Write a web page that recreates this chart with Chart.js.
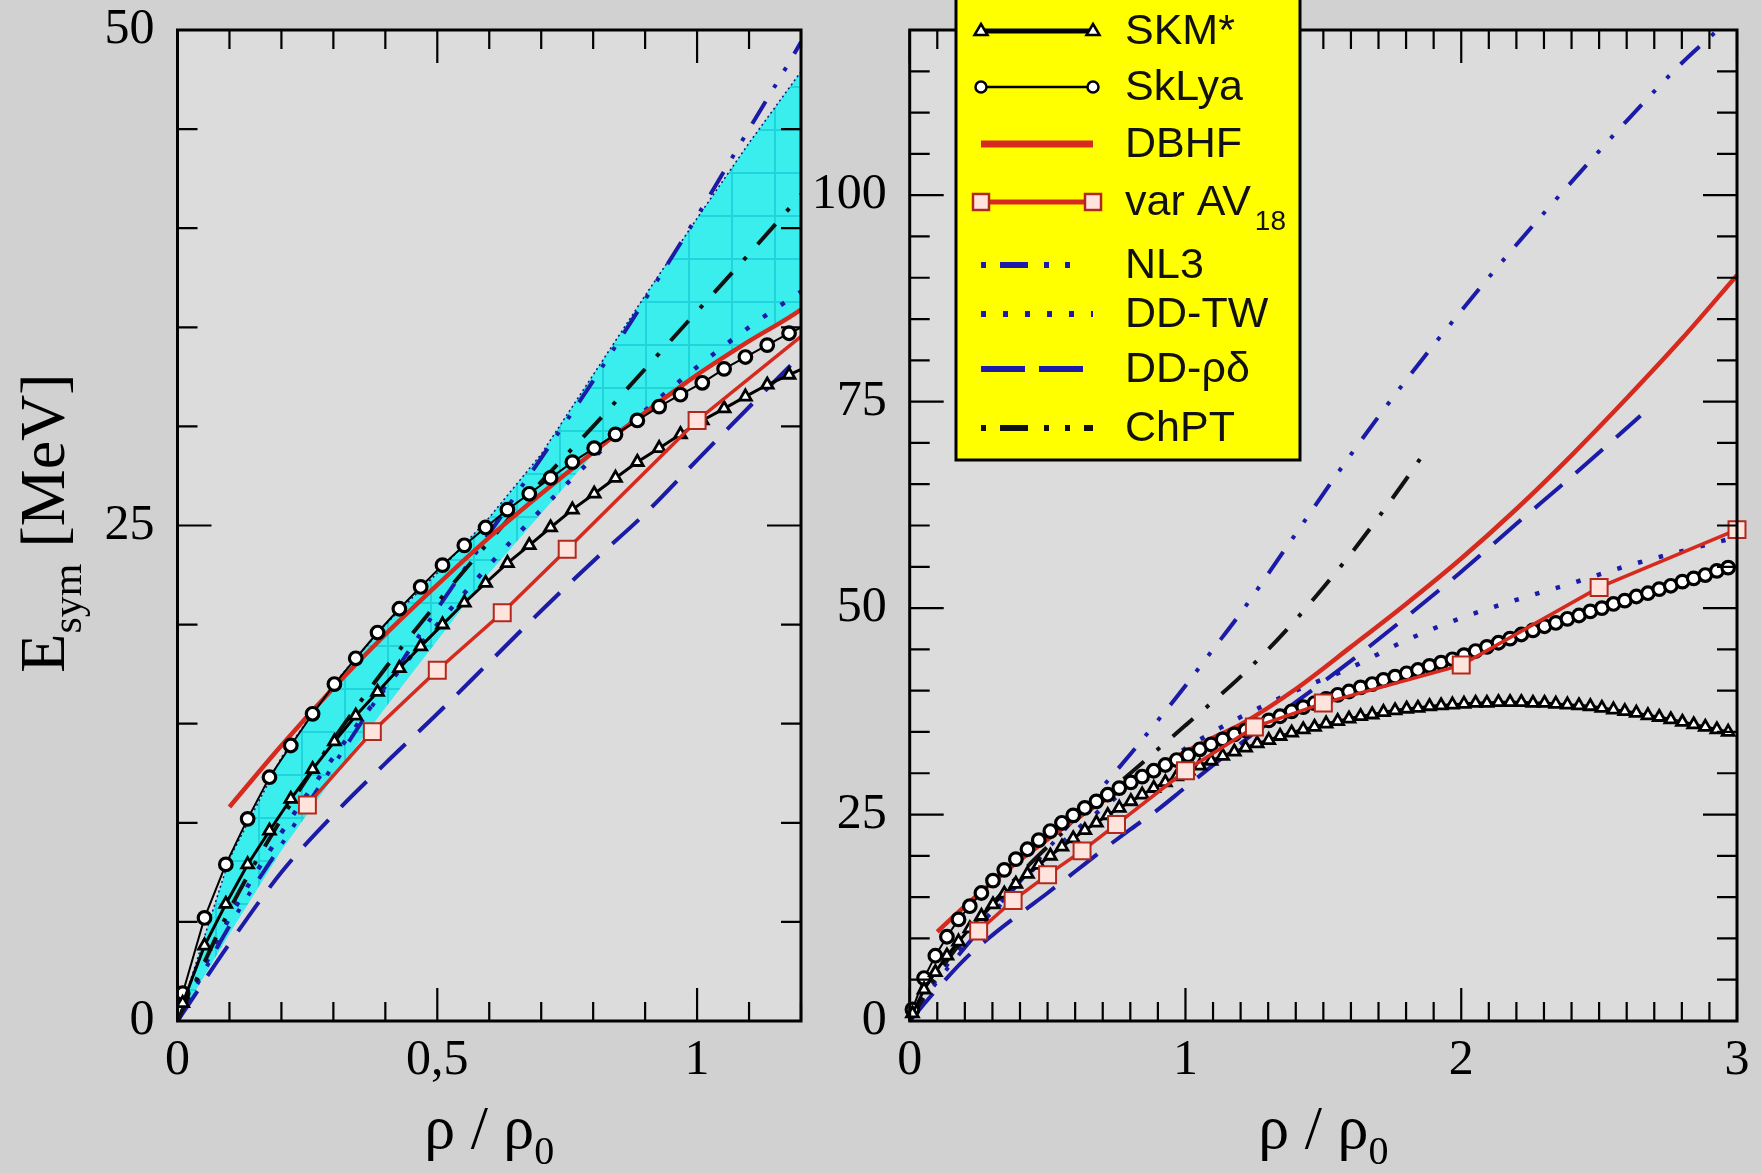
<!DOCTYPE html>
<html>
<head>
<meta charset="utf-8">
<script src="https://cdn.jsdelivr.net/npm/chart.js@4.4.1/dist/chart.umd.min.js"></script>
<style>
  html, body { margin: 0; padding: 0; background: #d1d1d1; }
  body { width: 1761px; height: 1173px; position: relative; overflow: hidden; }
  canvas { position: absolute; top: 0; }
  #left { left: 0; }
  #right { left: 805px; }
</style>
</head>
<body>
<canvas id="left" width="805" height="1173"></canvas>
<canvas id="right" width="956" height="1173"></canvas>
<script>
// densities of the Skyrme curves (marker positions), rho/rho0
const rhoGrid = [0.010, 0.052, 0.093, 0.135, 0.177, 0.218, 0.260, 0.302, 0.343, 0.385,
  0.427, 0.468, 0.510, 0.552, 0.593, 0.635, 0.677, 0.718, 0.760, 0.802,
  0.843, 0.885, 0.927, 0.968, 1.010, 1.052, 1.093, 1.135, 1.177, 1.218,
  1.260, 1.302, 1.343, 1.385, 1.427, 1.468, 1.510, 1.552, 1.593, 1.635,
  1.677, 1.718, 1.760, 1.802, 1.843, 1.885, 1.927, 1.968, 2.010, 2.052,
  2.093, 2.135, 2.177, 2.218, 2.260, 2.302, 2.343, 2.385, 2.427, 2.468,
  2.510, 2.552, 2.593, 2.635, 2.677, 2.718, 2.760, 2.802, 2.843, 2.885,
  2.927, 2.968];
const skmStar = [0.9, 3.8, 5.9, 7.9, 9.6, 11.2, 12.7, 14.1, 15.4, 16.6,
  17.8, 18.9, 20.0, 21.1, 22.1, 23.1, 24.0, 24.9, 25.8, 26.6,
  27.4, 28.2, 28.9, 29.6, 30.3, 30.9, 31.5, 32.1, 32.6, 33.1,
  33.6, 34.0, 34.5, 34.9, 35.3, 35.6, 36.0, 36.3, 36.6, 36.9,
  37.1, 37.4, 37.6, 37.8, 37.9, 38.1, 38.2, 38.3, 38.4, 38.5,
  38.5, 38.6, 38.6, 38.6, 38.5, 38.5, 38.4, 38.3, 38.2, 38.1,
  37.9, 37.7, 37.5, 37.3, 37.0, 36.8, 36.5, 36.2, 35.9, 35.6,
  35.3, 35.0];
const skLya = [1.4, 5.2, 7.9, 10.2, 12.3, 13.9, 15.5, 17.0, 18.3, 19.6,
  20.8, 21.9, 23.0, 24.0, 24.9, 25.8, 26.6, 27.4, 28.2, 28.9,
  29.6, 30.3, 31.0, 31.6, 32.2, 32.9, 33.5, 34.1, 34.7, 35.2,
  35.8, 36.4, 36.9, 37.5, 38.0, 38.5, 39.0, 39.5, 39.9, 40.4,
  40.8, 41.3, 41.7, 42.1, 42.5, 43.0, 43.4, 43.8, 44.3, 44.8,
  45.3, 45.8, 46.3, 46.8, 47.3, 47.8, 48.2, 48.7, 49.1, 49.6,
  50.0, 50.5, 50.9, 51.4, 51.8, 52.3, 52.7, 53.2, 53.6, 54.0,
  54.5, 54.9];

const dbhfRho = [0.1, 0.2, 0.3, 0.4, 0.5, 0.6, 0.7, 0.8, 0.9, 1.0, 1.1, 1.2, 1.4, 1.6, 1.8, 2.0, 2.2, 2.4, 2.6, 2.8, 3.0];
const dbhfE = [10.8, 13.9, 16.8, 19.5, 22.0, 24.4, 26.6, 28.7, 30.7, 32.6, 34.3, 35.9, 40.2, 45.3, 50.5, 56.0, 62.0, 68.5, 75.4, 82.6, 90.3];

const av18Rho = [0.25, 0.375, 0.5, 0.625, 0.75, 1.0, 1.25, 1.5, 2.0, 2.5, 3.0];
const av18E = [10.9, 14.6, 17.7, 20.6, 23.8, 30.3, 35.6, 38.5, 43.1, 52.5, 59.5];

const nl3Rho = [0, 0.1, 0.2, 0.3, 0.4, 0.5, 0.6, 0.7, 0.8, 0.9, 1.0, 1.1, 1.2, 1.4, 1.6, 1.8, 2.0, 2.2, 2.4, 2.6, 2.8, 2.93];
const nl3E = [0, 4.8, 8.9, 12.9, 16.9, 20.8, 24.6, 28.4, 32.3, 36.4, 40.6, 45.0, 49.4, 59.0, 68.6, 77.6, 86.0, 94.0, 101.6, 109.0, 116.0, 120.0];

const ddtwRho = [0, 0.1, 0.2, 0.3, 0.4, 0.5, 0.6, 0.7, 0.8, 0.9, 1.0, 1.1, 1.2, 1.4, 1.6, 1.8, 2.0, 2.2, 2.4, 2.6, 2.8, 3.0];
const ddtwE = [0, 5.2, 9.5, 13.3, 16.8, 20.0, 23.0, 25.8, 28.4, 30.8, 33.0, 35.0, 36.8, 40.0, 42.8, 46.1, 48.8, 51.0, 53.0, 55.1, 56.9, 58.6];

const ddrdRho = [0, 0.1, 0.2, 0.3, 0.4, 0.5, 0.6, 0.7, 0.8, 0.9, 1.0, 1.2, 1.4, 1.6, 1.8, 2.0, 2.2, 2.4, 2.65];
const ddrdE = [0, 3.9, 7.5, 10.4, 13.0, 15.5, 18.1, 20.7, 23.2, 25.6, 28.3, 33.6, 38.6, 43.6, 48.9, 54.4, 60.2, 65.9, 73.3];

const chptRho = [0, 0.1, 0.2, 0.3, 0.4, 0.5, 0.6, 0.7, 0.8, 0.9, 1.0, 1.1, 1.2, 1.3, 1.4, 1.5, 1.6, 1.7, 1.8, 1.87];
const chptE = [0, 5.6, 10.2, 14.2, 17.8, 21.1, 24.2, 27.2, 30.0, 32.9, 35.8, 38.7, 41.7, 45.0, 48.6, 52.5, 56.6, 61.0, 65.6, 69.0];

// shaded constraint band (left panel only)
const bandRho = [0, 0.1, 0.2, 0.3, 0.4, 0.5, 0.6, 0.7, 0.8, 0.9, 1.0, 1.1, 1.2];
const bandUpper = [0, 8.2, 13.3, 17.0, 20.0, 22.6, 25.4, 28.6, 32.6, 36.6, 40.5, 44.3, 47.9];
const bandLower = [0, 4.4, 8.6, 12.3, 15.8, 19.2, 22.6, 25.6, 28.6, 30.7, 32.6, 34.3, 35.9];

const leftXTicks = [0, 0.5, 1];
const leftYTicks = [0, 25, 50];
const rightXTicks = [0, 1, 2, 3];
const rightYTicks = [0, 25, 50, 75, 100];

const BLUE = '#1b1ba8';
const RED = '#d62a1e';
const SERIF = '"Liberation Serif", "Times New Roman", serif';
const SANS = '"Liberation Sans", Arial, sans-serif';

function series(xs, ys) {
  return xs.map((x, i) => ({ x: x, y: ys[i] }));
}

function hatch(ctx) {
  const c = document.createElement('canvas');
  c.width = 43; c.height = 43;
  const g = c.getContext('2d');
  g.fillStyle = '#3aeeee';
  g.fillRect(0, 0, 43, 43);
  g.strokeStyle = '#20d4dc';
  g.lineWidth = 2;
  g.beginPath();
  g.moveTo(0, 1); g.lineTo(43, 1);
  g.moveTo(1, 0); g.lineTo(1, 43);
  g.stroke();
  return ctx.createPattern(c, 'repeat');
}

function makeDatasets(ctx, withBand) {
  const sets = [
    { label: 'DD-ρδ', data: series(ddrdRho, ddrdE), borderColor: BLUE, borderWidth: 4,
      borderDash: [36, 18], pointRadius: 0, cubicInterpolationMode: 'monotone', order: 9 },
    { label: 'DD-TW', data: series(ddtwRho, ddtwE), borderColor: BLUE, borderWidth: 4.5,
      borderDash: [4.5, 17], pointRadius: 0, cubicInterpolationMode: 'monotone', order: 8 },
    { label: 'NL3', data: series(nl3Rho, nl3E), borderColor: BLUE, borderWidth: 4,
      borderDash: [26, 16, 4, 16, 4, 16], pointRadius: 0, cubicInterpolationMode: 'monotone', order: 7 },
    { label: 'ChPT', data: series(chptRho, chptE), borderColor: '#111', borderWidth: 4,
      borderDash: [27, 17, 4, 17], pointRadius: 0, cubicInterpolationMode: 'monotone', order: 6 },
    { label: 'DBHF', data: series(dbhfRho, dbhfE), borderColor: RED, borderWidth: 4.5,
      pointRadius: 0, cubicInterpolationMode: 'monotone', order: 5 },
    { label: 'SkLya', data: series(rhoGrid, skLya), borderColor: '#000', borderWidth: 2,
      pointStyle: 'circle', pointRadius: 6.3, pointBorderWidth: 3.2,
      pointBackgroundColor: '#fff', pointBorderColor: '#000', order: 3 },
    { label: 'SKM*', data: series(rhoGrid, skmStar), borderColor: '#000', borderWidth: 3,
      pointStyle: 'triangle', pointRadius: 6.8, pointBorderWidth: 2.8,
      pointBackgroundColor: '#fff', pointBorderColor: '#000', order: 2 },
    { label: 'var AV18', data: series(av18Rho, av18E), borderColor: RED, borderWidth: 3.5,
      pointStyle: 'rect', pointRadius: 12, pointBorderWidth: 2,
      pointBackgroundColor: '#ffe4de', pointBorderColor: '#b3281c', order: 1 }
  ];
  if (withBand) {
    sets.unshift(
      { label: 'band', data: series(bandRho, bandUpper), borderColor: '#141480', borderWidth: 1.5,
        borderDash: [2, 3], pointRadius: 0, fill: '+1', backgroundColor: hatch(ctx), order: 20 },
      { label: 'band-low', data: series(bandRho, bandLower), borderWidth: 0, pointRadius: 0,
        fill: false, order: 21 }
    );
  }
  return sets;
}

// plot background, frame with inside ticks on all four sides
const frameTicks = {
  id: 'frameTicks',
  beforeDraw(chart) {
    const a = chart.chartArea, ctx = chart.ctx;
    ctx.save();
    ctx.fillStyle = '#dcdcdc';
    ctx.fillRect(a.left, a.top, a.right - a.left, a.bottom - a.top);
    ctx.restore();
  },
  afterDatasetsDraw(chart, args, o) {
    const ctx = chart.ctx, a = chart.chartArea, xs = chart.scales.x, ys = chart.scales.y;
    ctx.save();
    ctx.strokeStyle = '#000';
    ctx.lineWidth = 2.2;
    ctx.beginPath();
    const nx = Math.round((xs.max - xs.min) / o.xMinor);
    for (let i = 0; i <= nx; i++) {
      const v = xs.min + i * o.xMinor;
      const major = Math.abs(v / o.xMajor - Math.round(v / o.xMajor)) < 1e-6;
      const len = major ? 33 : 19;
      const px = xs.getPixelForValue(v);
      ctx.moveTo(px, a.bottom); ctx.lineTo(px, a.bottom - len);
      ctx.moveTo(px, a.top); ctx.lineTo(px, a.top + len);
    }
    const ny = Math.round((ys.max - ys.min) / o.yMinor);
    for (let i = 0; i <= ny; i++) {
      const v = ys.min + i * o.yMinor;
      const major = Math.abs(v / o.yMajor - Math.round(v / o.yMajor)) < 1e-6;
      const len = major ? 34 : 20;
      const py = ys.getPixelForValue(v);
      ctx.moveTo(a.left, py); ctx.lineTo(a.left + len, py);
      ctx.moveTo(a.right, py); ctx.lineTo(a.right - len, py);
    }
    ctx.stroke();
    ctx.lineWidth = 3;
    ctx.strokeRect(a.left, a.top, a.right - a.left, a.bottom - a.top);
    ctx.restore();
  }
};

function drawParts(ctx, parts, cx, baseline) {
  let w = 0;
  parts.forEach(p => { ctx.font = p.size + 'px ' + p.family; w += ctx.measureText(p.t).width; });
  let x = cx - w / 2;
  ctx.textAlign = 'left';
  ctx.textBaseline = 'alphabetic';
  parts.forEach(p => {
    ctx.font = p.size + 'px ' + p.family;
    ctx.fillText(p.t, x, baseline + (p.dy || 0));
    x += ctx.measureText(p.t).width;
  });
}

const axisTitles = {
  id: 'axisTitles',
  afterDraw(chart, args, o) {
    const ctx = chart.ctx, a = chart.chartArea;
    ctx.save();
    ctx.fillStyle = '#000';
    drawParts(ctx, [
      { t: 'ρ / ρ', size: 62, family: SERIF },
      { t: '0', size: 40, family: SERIF, dy: 16 }
    ], (a.left + a.right) / 2, 1148);
    if (o.yTitle) {
      ctx.translate(64, 523);
      ctx.rotate(-Math.PI / 2);
      drawParts(ctx, [
        { t: 'E', size: 64, family: SERIF },
        { t: 'sym', size: 42, family: SERIF, dy: 17 },
        { t: ' [MeV]', size: 64, family: SERIF }
      ], 0, 0);
    }
    ctx.restore();
  }
};

const legendRows = [
  { label: 'SKM*', y: 31, color: '#000', width: 5, marker: 'triangle' },
  { label: 'SkLya', y: 87, color: '#000', width: 2.5, marker: 'circle' },
  { label: 'DBHF', y: 144, color: RED, width: 7 },
  { label: 'var AV', sub: '18', y: 202, color: RED, width: 5, marker: 'rect' },
  { label: 'NL3', y: 265, color: BLUE, width: 6, dash: [5, 14, 28, 16, 5, 16, 5, 30] },
  { label: 'DD-TW', y: 314, color: BLUE, width: 6, dash: [5, 17] },
  { label: 'DD-ρδ', y: 369, color: BLUE, width: 6, dash: [44, 14] },
  { label: 'ChPT', y: 428, color: '#111', width: 6, dash: [5, 14, 28, 16, 5, 16] }
];

function legendMarker(ctx, kind, x, y) {
  ctx.save();
  ctx.lineWidth = 2.5;
  ctx.strokeStyle = kind === 'rect' ? '#b3281c' : '#000';
  ctx.fillStyle = kind === 'rect' ? '#ffe4de' : '#fff';
  ctx.beginPath();
  if (kind === 'triangle') {
    ctx.moveTo(x, y - 7); ctx.lineTo(x + 6.5, y + 4); ctx.lineTo(x - 6.5, y + 4); ctx.closePath();
  } else if (kind === 'circle') {
    ctx.arc(x, y, 5.5, 0, Math.PI * 2);
  } else {
    ctx.rect(x - 8, y - 8, 16, 16);
  }
  ctx.fill();
  ctx.stroke();
  ctx.restore();
}

const boxLegend = {
  id: 'boxLegend',
  afterDraw(chart) {
    const ctx = chart.ctx;
    const x0 = 176, x1 = 288;
    ctx.save();
    ctx.fillStyle = '#ffff00';
    ctx.fillRect(151, -5, 344, 465);
    ctx.strokeStyle = '#000';
    ctx.lineWidth = 3;
    ctx.strokeRect(151, -5, 344, 465);
    legendRows.forEach(r => {
      ctx.save();
      ctx.strokeStyle = r.color;
      ctx.lineWidth = r.width;
      ctx.setLineDash(r.dash || []);
      ctx.beginPath();
      ctx.moveTo(x0, r.y);
      ctx.lineTo(x1, r.y);
      ctx.stroke();
      ctx.restore();
      if (r.marker) {
        legendMarker(ctx, r.marker, x0, r.y);
        legendMarker(ctx, r.marker, x1, r.y);
      }
      ctx.fillStyle = '#111';
      ctx.textAlign = 'left';
      ctx.textBaseline = 'middle';
      ctx.font = '43px ' + SANS;
      ctx.fillText(r.label, 320, r.y + 1);
      if (r.sub) {
        const w = ctx.measureText(r.label).width;
        ctx.font = '28px ' + SANS;
        ctx.fillText(r.sub, 320 + w + 4, r.y + 20);
      }
    });
    ctx.restore();
  }
};

function noPad(s) {
  s.paddingLeft = 0; s.paddingRight = 0; s.paddingTop = 0; s.paddingBottom = 0;
}

function makeChart(id, cfg) {
  const canvas = document.getElementById(id);
  const ctx = canvas.getContext('2d');
  return new Chart(ctx, {
    type: 'line',
    data: { datasets: makeDatasets(ctx, cfg.band) },
    plugins: cfg.plugins,
    options: {
      responsive: false,
      animation: false,
      events: [],
      layout: { autoPadding: false, padding: { left: 0, right: cfg.padRight, top: 30, bottom: 0 } },
      elements: { line: { tension: 0 } },
      datasets: { line: { clip: cfg.clip } },
      scales: {
        x: {
          type: 'linear', min: 0, max: cfg.xMax,
          grid: { display: false }, border: { display: false },
          afterBuildTicks: s => { s.ticks = cfg.xTicks.map(v => ({ value: v })); },
          afterFit: s => { s.height = 152; noPad(s); },
          ticks: {
            padding: 2, maxRotation: 0, color: '#000',
            font: { family: SERIF, size: 50 },
            callback: v => String(v).replace('.', ',')
          }
        },
        y: {
          type: 'linear', min: 0, max: cfg.yMax,
          grid: { display: false }, border: { display: false },
          afterBuildTicks: s => { s.ticks = cfg.yTicks.map(v => ({ value: v })); },
          afterFit: s => { s.width = cfg.yWidth; noPad(s); },
          ticks: { padding: 15, color: '#000', font: { family: SERIF, size: 50 } }
        }
      },
      plugins: {
        legend: { display: false },
        tooltip: { enabled: false },
        frameTicks: { xMinor: 0.1, xMajor: cfg.xMajor, yMinor: 5, yMajor: 25 },
        axisTitles: { yTitle: cfg.yTitle }
      }
    }
  });
}

makeChart('left', {
  band: true, xMax: 1.2, yMax: 50, xTicks: leftXTicks, yTicks: leftYTicks,
  xMajor: 0.5, yWidth: 177.5, padRight: 4, clip: undefined, yTitle: true,
  plugins: [frameTicks, axisTitles]
});

makeChart('right', {
  band: false, xMax: 3, yMax: 120, xTicks: rightXTicks, yTicks: rightYTicks,
  xMajor: 1, yWidth: 104.7, padRight: 24, clip: false, yTitle: false,
  plugins: [frameTicks, axisTitles, boxLegend]
});
</script>
</body>
</html>
